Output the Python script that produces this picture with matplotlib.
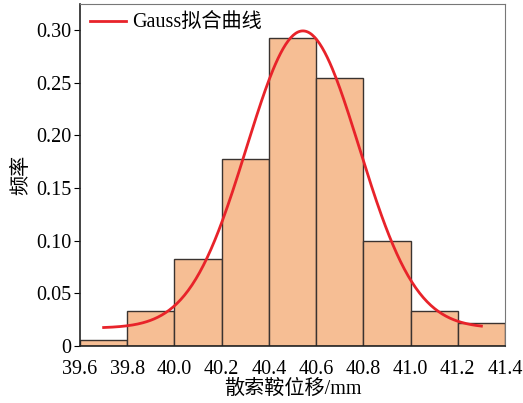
import numpy as np
import matplotlib
matplotlib.use("Agg")
import matplotlib.pyplot as plt

plt.rcParams['font.family'] = ['Liberation Serif', 'Noto Sans CJK SC', 'DejaVu Sans']

# histogram bins (left edges) and frequencies
bin_left = [39.6, 39.8, 40.0, 40.2, 40.4, 40.6, 40.8, 41.0, 41.2]
freq = [0.006, 0.033, 0.083, 0.177, 0.292, 0.254, 0.100, 0.033, 0.022]
bin_width = 0.2

# Gauss fit parameters
y0 = 0.017
amp = 0.282
xc = 40.544
w = 0.239
fit_range = (39.7, 41.3)

xticks = [39.6, 39.8, 40.0, 40.2, 40.4, 40.6, 40.8, 41.0, 41.2, 41.4]
yticks = [0, 0.05, 0.10, 0.15, 0.20, 0.25, 0.30]
ylabels = ["0", "0.05", "0.10", "0.15", "0.20", "0.25", "0.30"]

fig = plt.figure(figsize=(5.23, 4.03), dpi=100)
ax = fig.add_axes([0.153, 0.1414, 0.8126, 0.8486])

ax.bar(bin_left, freq, width=bin_width, align="edge",
       color="#F6BE94", edgecolor="#3a3330", linewidth=1.0, zorder=2)

xs = np.linspace(fit_range[0], fit_range[1], 300)
ys = y0 + amp * np.exp(-(xs - xc) ** 2 / (2 * w ** 2))
ax.plot(xs, ys, color="#E8232A", lw=2.0, label="Gauss拟合曲线", zorder=3)

ax.set_xlim(39.6, 41.4)
ax.set_ylim(0, 0.3245)
ax.set_xticks(xticks)
ax.set_xticklabels([f"{t:.1f}" for t in xticks])
ax.set_yticks(yticks)
ax.set_yticklabels(ylabels)
ax.tick_params(axis="x", direction="in", length=0, labelsize=14.5, pad=10)
ax.tick_params(axis="y", direction="out", length=4, labelsize=14.5, pad=2)

for s in ["top", "right"]:
    ax.spines[s].set_color("#777777")
for s in ["left", "bottom"]:
    ax.spines[s].set_color("#222222")
    ax.spines[s].set_linewidth(1.2)

ax.set_xlabel("散索鞍位移/mm", fontsize=14.5, labelpad=1)
ax.set_ylabel("频率", fontsize=14.5, labelpad=4)

ax.legend(loc="upper left", frameon=False, fontsize=14.5, handlelength=1.8,
          borderaxespad=0.1, handletextpad=0.3)

fig.savefig("out.png", dpi=100)
